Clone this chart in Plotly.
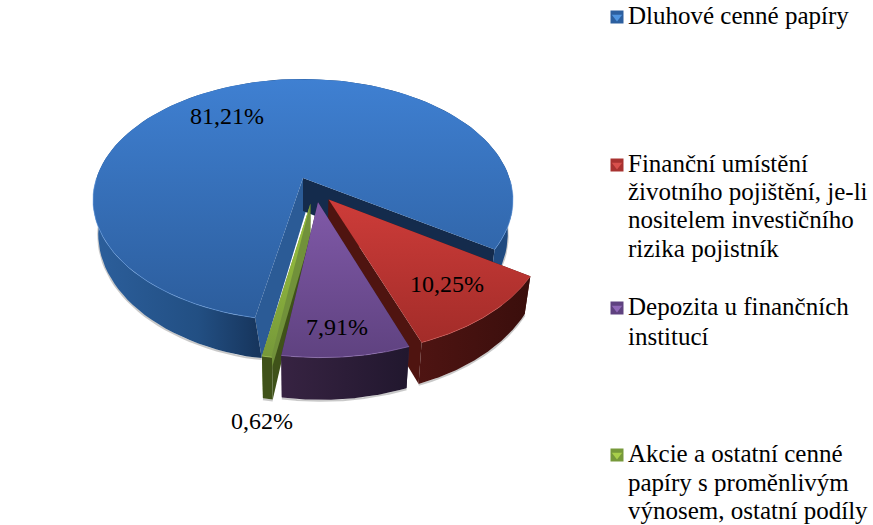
import numpy as np
import plotly.graph_objects as go

# values
label_lines = [
    ['Dluhové cenné papíry'],
    ['Finanční umístění', 'životního pojištění, je-li', 'nositelem investičního', 'rizika pojistník'],
    ['Depozita u finančních', 'institucí'],
    ['Akcie a ostatní cenné', 'papíry s proměnlivým', 'výnosem, ostatní podíly'],
]
values = [81.21, 10.25, 7.91, 0.62]

# layout of the fake 3D pie, in window pixels
START_ANGLE = 101
CX, CY = 303, 178
RX, RY = 206.5, 117
PERSP = 0.182
DEPTH = 33
BOTTOM_SHRINK = 0.975
explode_u = [0, 0.12, 0.07, 0.035]
explode_v = [0, 0.178, 0.2, 0.21]
wall_nudge = [5.5, 0, 0, 0]
apex_nudge = [3, 0, 0, 0]

top_colors = [('#3f80d2', '#2c5d9c'), ('#cd3c39', '#a32c29'), ('#8059a8', '#5f4280'), ('#9cc43e', '#76993a')]
wall_scales = [
    [[0, '#2c5f9c'], [0.25, '#224f83'], [0.39, '#17365e'], [0.42, '#17365e'], [0.95, '#1f4a80'], [1, '#1f4a80']],
    [[0, '#4e1412'], [1, '#3a0e0c']],
    [[0, '#372342'], [1, '#21172e']],
    [[0, '#3f5219'], [1, '#3f5219']],
]
cut_left = ['#2b5b96', '#4f1410', '#372342', '#3f5219']
cut_right = ['#142b4c', '#4f1410', '#372342', '#71913a']
rim_colors = ['#6a9fe2', '#d9605c', '#9a78c0', '#b5d668']
draw_order = [0, 1, 3, 2]  # back to front

label_x = [227, 447, 337, 262]
label_y = [118, 286, 329, 423]
legend_marker_x = [617, 617, 617, 617]
legend_marker_y = [17, 165, 308, 455]
legend_text_x = 627
legend_text_y = [[15], [163, 191, 219, 248], [306, 336], [453, 482, 510]]
marker_dark = ['#2c5f9f', '#a83230', '#5f4280', '#76993a']
marker_light = ['#4f94e0', '#d8504c', '#9068b8', '#a8cf4a']


def project(u, v, z, i):
    u = u + explode_u[i]
    v = v + explode_v[i]
    s = 1 / (1 - PERSP * v)
    shrink = 1 - (1 - BOTTOM_SHRINK) * z
    return CX + RX * u * s * shrink, CY + RY * v * s + DEPTH * z * s


def polygon(x, y, color, gradient=None):
    trace = dict(x=x, y=y, mode='lines', fill='toself', line=dict(width=0), hoverinfo='skip', showlegend=False)
    if gradient is None:
        trace['fillcolor'] = color
    else:
        lo, hi = (min(x), max(x)) if gradient == 'horizontal' else (min(y), max(y))
        trace['fillgradient'] = dict(type=gradient, start=lo, stop=hi, colorscale=color)
    return go.Scatter(**trace)


fig = go.Figure()

sweeps = np.array(values) / sum(values) * 360
starts = START_ANGLE + np.concatenate([[0], np.cumsum(sweeps)[:-1]])

for i in draw_order:
    theta = np.radians(np.linspace(starts[i], starts[i] + sweeps[i], 120))
    u, v = np.cos(theta), np.sin(theta)
    tx, ty = project(u, v, 0, i)
    bx, by = project(u, v, 1, i)
    bx[0] += wall_nudge[i]
    ax, ay = project(0.0, 0.0, 0, i)
    cx2, cy2 = project(0.0, 0.0, 1, i)

    # soft shadow under the wall
    fig.add_trace(go.Scatter(x=bx, y=by + 1, mode='lines', line=dict(color='#8a8a8a', width=2),
                             opacity=0.45, hoverinfo='skip', showlegend=False))
    # the two cut faces, wall goes over them
    fig.add_trace(polygon([ax, tx[0], bx[0], cx2 + apex_nudge[i]], [ay, ty[0], by[0], cy2], cut_left[i]))
    fig.add_trace(polygon([ax, tx[-1], bx[-1], cx2], [ay, ty[-1], by[-1], cy2], cut_right[i]))
    # outer wall
    fig.add_trace(polygon(list(tx) + list(bx[::-1]), list(ty) + list(by[::-1]), wall_scales[i], 'horizontal'))
    # top face
    scale = [[0, top_colors[i][0]], [1, top_colors[i][1]]]
    fig.add_trace(polygon([ax] + list(tx), [ay] + list(ty), scale, 'vertical'))
    # bright edge, front only (nan breaks the line at the back)
    rim_y = np.where(v > 0, ty, np.nan)
    fig.add_trace(go.Scatter(x=tx, y=rim_y, mode='lines', line=dict(color=rim_colors[i], width=1),
                             opacity=0.6, hoverinfo='skip', showlegend=False))

fig.add_trace(go.Scatter(
    x=label_x, y=label_y, mode='text',
    text=[f'{v:.2f}%'.replace('.', ',') for v in values],
    textposition='middle center',
    textfont=dict(family='Liberation Serif', size=24, color='#000000'),
    hoverinfo='skip', showlegend=False,
))

fig.add_trace(go.Scatter(x=legend_marker_x, y=legend_marker_y, mode='markers',
                         marker=dict(symbol='square', size=13, color=marker_dark),
                         hoverinfo='skip', showlegend=False))
fig.add_trace(go.Scatter(x=legend_marker_x, y=legend_marker_y, mode='markers',
                         marker=dict(symbol='triangle-down', size=9, color=marker_light),
                         hoverinfo='skip', showlegend=False))

for lines, ys in zip(label_lines, legend_text_y):
    for line, y in zip(lines, ys):
        fig.add_annotation(x=legend_text_x, y=y, text=line, showarrow=False,
                           xanchor='left', yanchor='middle', align='left', xref='x', yref='y',
                           font=dict(family='Liberation Serif', size=25, color='#000000'),
                           borderpad=0)

fig.update_layout(
    width=873, height=525,
    margin=dict(l=0, r=0, t=0, b=0),
    paper_bgcolor='#ffffff', plot_bgcolor='#ffffff',
    showlegend=False,
    xaxis=dict(range=[0, 873], visible=False, fixedrange=True),
    yaxis=dict(range=[525, 0], visible=False, fixedrange=True),
)

fig.write_html('out.html', post_script="document.body.style.margin='0';", config=dict(displayModeBar=False))
